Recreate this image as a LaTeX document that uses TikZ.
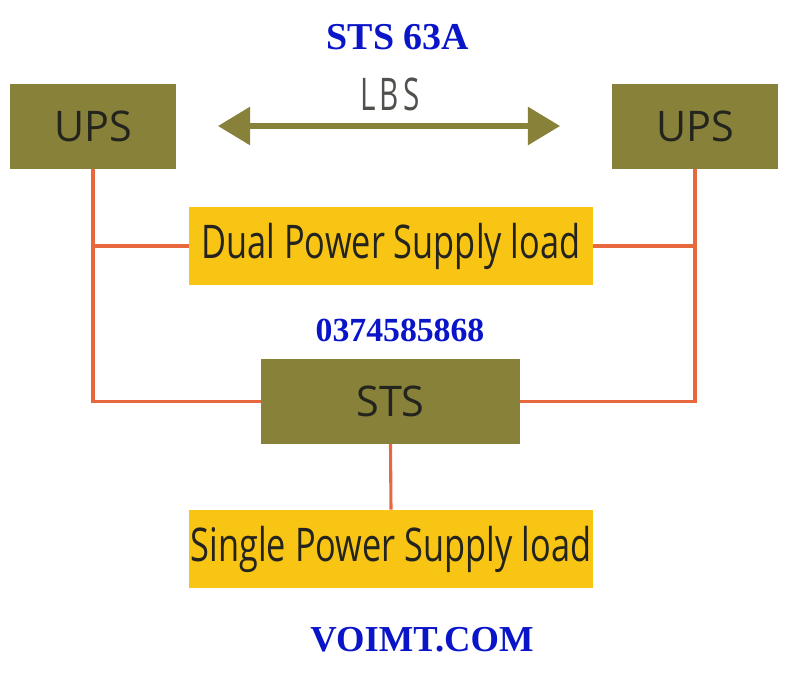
\documentclass[tikz,border=0pt]{standalone}
\usepackage{fontspec}
\setmainfont{Liberation Serif}
\newfontfamily\boxfont[FakeStretch=0.74]{Open Sans}
\newfontfamily\unitfont[FakeStretch=0.98]{Open Sans}
\newfontfamily\lbsfont[FakeStretch=0.66,LetterSpace=9]{Open Sans}
\usetikzlibrary{arrows.meta,positioning}
\definecolor{STOlive}{HTML}{878139}
\definecolor{STYellow}{HTML}{F9C514}
\definecolor{STWire}{HTML}{E8683E}
\definecolor{STBlue}{HTML}{0A14C8}
\definecolor{STText}{HTML}{24241F}
\begin{document}
\begin{tikzpicture}[x=0.025cm,y=-0.025cm,>=Triangle]
\tikzset{unitbox/.style={fill=STOlive,text=STText,font=\unitfont\fontsize{30}{30}\selectfont,minimum width=4.15cm,minimum height=2.12cm,inner sep=0pt},loadbox/.style={fill=STYellow,text=STText,font=\boxfont\fontsize{33}{33}\selectfont,minimum width=10.1cm,minimum height=1.95cm,inner sep=0pt},wire/.style={draw=STWire,line width=2.2pt},blue/.style={text=STBlue,font=\bfseries}}
\useasboundingbox (0,0) rectangle (805,683);
\node[blue,font=\bfseries\fontsize{27}{27}\selectfont] (title) at (398,37) {STS 63A};
\node[unitbox] (upsL) at (93,126.5) {UPS};
\node[unitbox] (upsR) at (695,126.5) {UPS};
\node[text=STText!80,font=\lbsfont\fontsize{32}{32}\selectfont] (lbs) at (390,94) {LBS};
\coordinate (lbsA) at (218,126);
\coordinate (lbsB) at (560,126);
\draw[<->,draw=STOlive,line width=3.6pt,arrows={Triangle[length=8mm,width=9.3mm]-Triangle[length=8mm,width=9.3mm]}] (lbsA) -- (lbsB);
\node[loadbox] (dual) at (391,246) {Dual Power Supply load};
\node[blue,font=\bfseries\fontsize{24}{24}\selectfont] (phone) at (400,330) {0374585868};
\node[unitbox,minimum width=6.48cm] (sts) at (390.5,401.5) {STS};
\node[loadbox] (single) at (391,549) {Single Power Supply load};
\node[blue,font=\bfseries\fontsize{26}{26}\selectfont] (web) at (422,640) {VOIMT.COM};
% wiring
\draw[wire] (upsL.south) -- (upsL.south |- sts.west) -- (sts.west);
\draw[wire] (upsR.south) -- (upsR.south |- sts.east) -- (sts.east);
\draw[wire] (upsL.south |- dual.west) -- (dual.west);
\draw[wire] (upsR.south |- dual.east) -- (dual.east);
\draw[wire] (sts.south) -- (single.north);
\end{tikzpicture}
\end{document}
